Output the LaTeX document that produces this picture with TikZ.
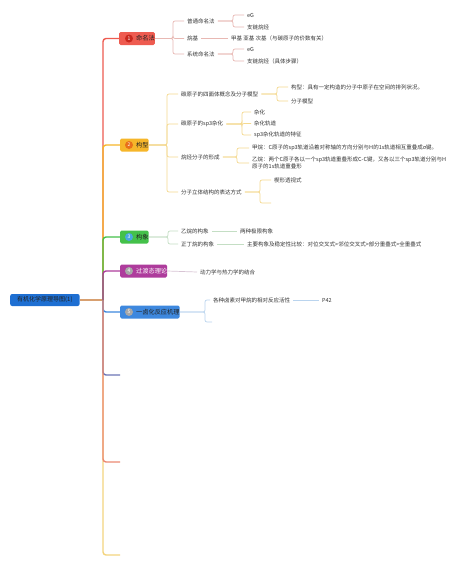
\documentclass[tikz,border=0pt]{standalone}
\usepackage{fontspec}
\setmainfont{Noto Sans CJK SC}
\definecolor{txt}{HTML}{333333}
\definecolor{boxtxt}{HTML}{222222}
\definecolor{rootfill}{HTML}{1E6FD2}
\definecolor{rootline}{HTML}{D8A070}
\definecolor{cA}{HTML}{EE5B50}
\definecolor{cAd}{HTML}{C8281E}
\definecolor{cAl}{HTML}{E8B8B3}
\definecolor{cB}{HTML}{F6B62A}
\definecolor{cBd}{HTML}{E8701A}
\definecolor{cBl}{HTML}{F5D98F}
\definecolor{cC}{HTML}{44C14A}
\definecolor{cCd}{HTML}{4AA8E0}
\definecolor{cCl}{HTML}{C4DEC4}
\definecolor{cD}{HTML}{AE3C9C}
\definecolor{cDl}{HTML}{D8C4D4}
\definecolor{cE}{HTML}{3E88DE}
\definecolor{cEl}{HTML}{BAD4EE}
\definecolor{cgray}{HTML}{A8A8A8}
\definecolor{cF}{HTML}{6C76B6}
\definecolor{cG}{HTML}{EC8A72}
\definecolor{cH}{HTML}{F3D47E}
\begin{document}
\begin{tikzpicture}[x=1pt,y=-1pt,
  leaf/.style={anchor=west,inner xsep=3pt,inner ysep=1pt,font=\fontsize{5.5}{6.8}\selectfont,text=txt},
  topic/.style={anchor=west,rounded corners=1.5pt,minimum height=13pt,inner sep=0pt,font=\fontsize{6.2}{7}\selectfont,text=boxtxt},
  num/.style={circle,minimum size=8pt,inner sep=0pt,font=\fontsize{5}{5}\selectfont,text=white},
  mainline/.style={line width=1.4pt,rounded corners=3pt},
  subline/.style={line width=0.7pt,rounded corners=2pt}]
\useasboundingbox (0,0) rectangle (474,566);
\fill[white] (0,0) rectangle (474,566);

% root
\node[anchor=west,fill=rootfill,rounded corners=2pt,minimum height=12pt,inner xsep=7pt,inner ysep=0pt,
  font=\fontsize{6}{7}\selectfont,text=boxtxt] (r) at (10,300) {有机化学原理导图(1)};
\coordinate (J) at (103,300);

% topics
\node[topic,fill=cA] (b1) at (119,38.5) {\hspace{17pt}命名法\hspace{8pt}};
\node[topic,fill=cB] (b2) at (120,145) {\hspace{16pt}构型\hspace{6pt}};
\node[topic,fill=cC] (b3) at (120,237) {\hspace{16pt}构象\hspace{6pt}};
\node[topic,fill=cD,text=white] (b4) at (120,271) {\hspace{16pt}过渡态理论\hspace{7pt}};
\node[topic,fill=cE] (b5) at (120,312) {\hspace{16pt}一卤化反应机理\hspace{6pt}};
\node[num,fill=cAd] (i1) at (129,38.5) {1};
\node[num,fill=cBd] (i2) at (129,145) {2};
\node[num,fill=cCd] (i3) at (129,237) {3};
\node[num,fill=cgray] (i4) at (129,271) {4};
\node[num,fill=cgray] (i5) at (129,312) {5};
\coordinate (e6) at (120,375);
\coordinate (e7) at (120,462);
\coordinate (e8) at (120,555);

% trunk connectors
\draw[mainline,rootline] (r.east) -- (J);
\draw[mainline,cH] (J) |- (e8);
\draw[mainline,cF] (J) |- (e6);
\draw[mainline,cE] (J) |- (b5.west);
\draw[mainline,cG] (J) |- (e7);
\draw[mainline,cA] (J) |- (b1.west);
\draw[mainline,cB] (J) |- (b2.west);
\draw[mainline,cC] (J) |- (b3.west);
\draw[mainline,cD] (J) |- (b4.west);

% bracket x positions
\coordinate (k1) at (173,0);
\coordinate (k11) at (233,0);
\coordinate (k2) at (167,0);
\coordinate (k21) at (277,0);
\coordinate (k22) at (242,0);
\coordinate (k23) at (237,0);
\coordinate (k24) at (260,0);
\coordinate (k3) at (168,0);
\coordinate (k5) at (205,0);

% branch 1
\node[leaf] (n11) at (184,21) {普通命名法};
\node[leaf] (n111) at (244,15) {eG};
\node[leaf] (n112) at (244,27) {支链烷烃};
\node[leaf] (n12) at (184,38.5) {烷基};
\node[leaf] (n121) at (228,38.5) {甲基 亚基 次基（与碳原子的价数有关）};
\node[leaf] (n13) at (184,54) {系统命名法};
\node[leaf] (n131) at (244,49) {eG};
\node[leaf] (n132) at (244,61) {支链烷烃（具体步骤）};
\foreach \c in {n11,n12,n13} \draw[subline,cAl] (b1.east) -- (b1.east -| k1) |- (\c.west);
\foreach \c in {n111,n112} \draw[subline,cAl] (n11.east) -- (n11.east -| k11) |- (\c.west);
\foreach \c in {n131,n132} \draw[subline,cAl] (n13.east) -- (n13.east -| k11) |- (\c.west);
\draw[subline,cAl] (n12.east) -- (n121.west);

% branch 2
\node[leaf] (n21) at (178,94) {碳原子的四面体概念及分子模型};
\node[leaf] (n211) at (288,87) {构型：具有一定构造的分子中原子在空间的排列状况。};
\node[leaf] (n212) at (288,101) {分子模型};
\node[leaf] (n22) at (178,124) {碳原子的sp3杂化};
\node[leaf] (n221) at (251,112) {杂化};
\node[leaf] (n222) at (251,123.5) {杂化轨道};
\node[leaf] (n223) at (251,135) {sp3杂化轨道的特征};
\node[leaf] (n23) at (178,157) {烷烃分子的形成};
\node[leaf] (n231) at (249,148) {甲烷：C原子的sp3轨道沿着对称轴的方向分别与H的1s轨道相互重叠成σ键。};
\node[leaf,align=left] (n232) at (249,163) {乙烷：两个C原子各以一个sp3轨道重叠形成C-C键，又各以三个sp3轨道分别与H\\原子的1s轨道重叠形};
\node[leaf] (n24) at (178,192) {分子立体结构的表达方式};
\node[leaf] (n241) at (271,180) {楔形透视式};
\coordinate (n242) at (271,203);
\foreach \c in {n21,n22,n23,n24} \draw[subline,cBl] (b2.east) -- (b2.east -| k2) |- (\c.west);
\foreach \c in {n211,n212} \draw[subline,cBl] (n21.east) -- (n21.east -| k21) |- (\c.west);
\foreach \c in {n221,n222,n223} \draw[subline,cBl] (n22.east) -- (n22.east -| k22) |- (\c.west);
\foreach \c in {n231,n232} \draw[subline,cBl] (n23.east) -- (n23.east -| k23) |- (\c.west);
\draw[subline,cBl] (n24.east) -- (n24.east -| k24) |- (n241.west);
\draw[subline,cBl] (n24.east) -- (n24.east -| k24) |- (n242);

% branch 3
\node[leaf] (n31) at (178,231) {乙烷的构象};
\node[leaf] (n311) at (237,231) {两种极限构象};
\node[leaf] (n32) at (178,244) {正丁烷的构象};
\node[leaf] (n321) at (244,244) {主要构象及稳定性比较：对位交叉式>邻位交叉式>部分重叠式>全重叠式};
\foreach \c in {n31,n32} \draw[subline,cCl] (b3.east) -- (b3.east -| k3) |- (\c.west);
\draw[subline,cCl] (n31.east) -- (n311.west);
\draw[subline,cCl] (n32.east) -- (n321.west);

% branch 4
\node[leaf] (n41) at (197,272) {动力学与热力学的结合};
\draw[subline,cDl] (b4.east) -- (n41.west);

% branch 5
\node[leaf] (n51) at (210,300) {各种卤素对甲烷的相对反应活性};
\node[leaf] (n511) at (319,300) {P42};
\coordinate (n52) at (212,322);
\draw[subline,cEl] (b5.east) -- (b5.east -| k5) |- (n51.west);
\draw[subline,cEl] (b5.east) -- (b5.east -| k5) |- (n52);
\draw[subline,cEl] (n51.east) -- (n511.west);
\end{tikzpicture}
\end{document}
